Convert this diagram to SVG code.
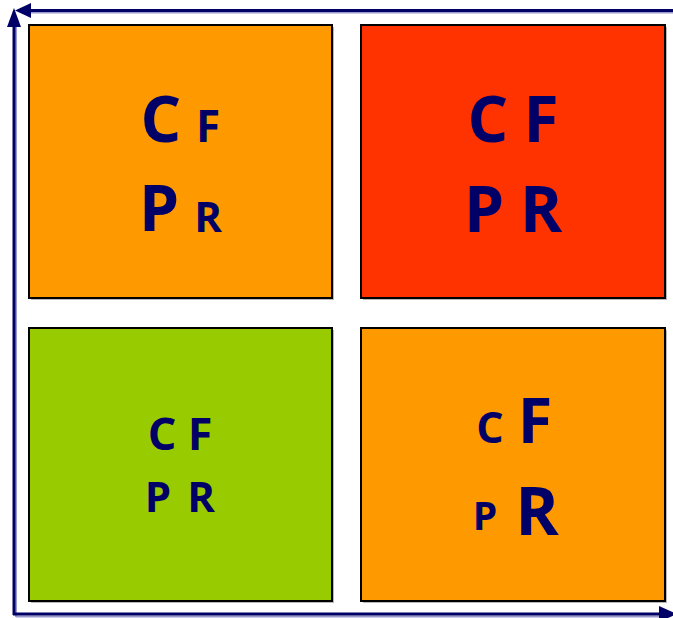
<svg xmlns="http://www.w3.org/2000/svg" width="673" height="618" viewBox="0 0 673 618">
<style>
.box{stroke:#000;stroke-width:2}
.sh{fill:#888;opacity:0.6}
.t{font-family:"Open Sans","Noto Sans","Liberation Sans",sans-serif;font-weight:bold;fill:#000066;text-anchor:middle}
.ax{stroke:#000066;stroke-width:3;fill:none}
.axs{stroke:#9999cc;stroke-width:2;fill:none}
.ah{fill:#000066}
</style>
<g id="connectors">
<line class="axs" x1="16" y1="617" x2="16" y2="26"/>
<line class="axs" x1="30" y1="12.5" x2="673" y2="12.5"/>
<line class="axs" x1="16" y1="616.5" x2="660" y2="616.5"/>
<line class="ax" x1="14" y1="615" x2="14" y2="24"/>
<polygon class="ah" points="14,8 7,27 21,27"/>
<line class="ax" x1="28" y1="10.5" x2="673" y2="10.5"/>
<polygon class="ah" points="15,10.5 31,3 31,18"/>
<line class="ax" x1="13" y1="614" x2="660" y2="614"/>
<polygon class="ah" points="677,614 659,606 659,622"/>
</g>
<g id="node-tl">
<rect class="sh" x="31" y="27" width="303" height="273"/>
<rect class="box" x="29" y="25" width="303" height="273" fill="#FF9900"/>
<text class="t" x="161" y="142" font-size="64">C</text>
<text class="t" x="208" y="142" font-size="44">F</text>
<text class="t" x="159" y="231" font-size="64">P</text>
<text class="t" x="208" y="232" font-size="42">R</text>
</g>
<g id="node-tr">
<rect class="sh" x="363" y="27" width="304" height="273"/>
<rect class="box" x="361" y="25" width="304" height="273" fill="#FF3300"/>
<text class="t" x="488" y="142" font-size="64">C</text>
<text class="t" x="541" y="142" font-size="64">F</text>
<text class="t" x="484" y="232" font-size="64">P</text>
<text class="t" x="541" y="232" font-size="64">R</text>
</g>
<g id="node-bl">
<rect class="sh" x="31" y="330" width="303" height="273"/>
<rect class="box" x="29" y="328" width="303" height="273" fill="#99CC00"/>
<text class="t" x="162" y="450" font-size="45">C</text>
<text class="t" x="200" y="450" font-size="45">F</text>
<text class="t" x="158" y="512" font-size="42">P</text>
<text class="t" x="201" y="512" font-size="42">R</text>
</g>
<g id="node-br">
<rect class="sh" x="363" y="330" width="304" height="273"/>
<rect class="box" x="361" y="328" width="304" height="273" fill="#FF9900"/>
<text class="t" x="490" y="443" font-size="43">C</text>
<text class="t" x="535" y="443" font-size="63">F</text>
<text class="t" x="485" y="530" font-size="39">P</text>
<text class="t" x="537" y="535" font-size="66">R</text>
</g>
</svg>
